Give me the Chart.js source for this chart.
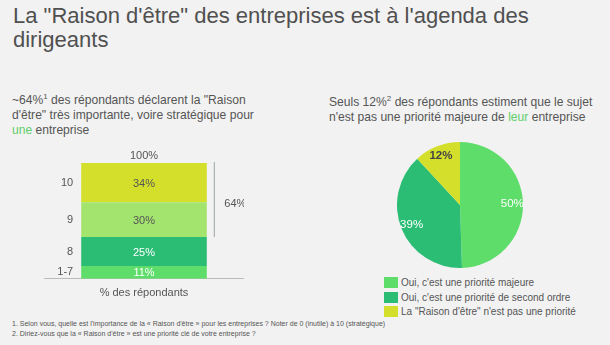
<!doctype html>
<html>
<head>
    <meta charset="utf-8">
    <title>Raison d'être</title>
    <script src="https://cdn.jsdelivr.net/npm/chart.js"></script>
    <style>
        body {
            margin: 0;
            background: #f2f2f2;
            font-family: "Liberation Sans", Arial, sans-serif;
            color: #555;
        }

        #page {
            position: relative;
            width: 610px;
            height: 345px;
            overflow: hidden;
        }

        .abs { position: absolute; }

        #title {
            left: 13px;
            top: 4px;
            font-size: 22px;
            line-height: 24px;
            color: #505050;
        }

        .lead {
            font-size: 12.1px;
            line-height: 15px;
        }

        .lead sup {
            font-size: 8px;
            vertical-align: 5px;
            line-height: 0;
        }

        .hl { color: #5fcf6b; }

        #leadLeft { left: 12px; top: 93px; }
        #leadRight { left: 329px; top: 95px; line-height: 14.5px; }

        #barWrap { left: 44px; top: 140px; width: 200px; height: 170px; }
        #pieWrap { left: 397px; top: 142px; width: 126px; height: 126px; }

        #legend {
            left: 384px;
            top: 275px;
            font-size: 10px;
        }

        #legend div {
            height: 14.7px;
            display: flex;
            align-items: center;
        }

        #legend span.box {
            display: inline-block;
            width: 14px;
            height: 11px;
            margin-right: 3px;
        }

        #notes {
            left: 12px;
            top: 319px;
            font-size: 7px;
            line-height: 10px;
        }
    </style>
</head>
<body>
<div id="page">
    <div id="title" class="abs">La "Raison d'être" des entreprises est à l'agenda des<br>dirigeants</div>

    <div id="leadLeft" class="abs lead">~64%<sup>1</sup> des répondants déclarent la "Raison<br>d'être" très importante, voire stratégique pour<br><span class="hl">une</span> entreprise</div>
    <div id="leadRight" class="abs lead">Seuls 12%<sup>2</sup> des répondants estiment que le sujet<br>n'est pas une priorité majeure de <span class="hl">leur</span> entreprise</div>

    <div id="barWrap" class="abs"><canvas id="barChart"></canvas></div>
    <div id="pieWrap" class="abs"><canvas id="pieChart"></canvas></div>
    <div id="legend" class="abs"></div>

    <div id="notes" class="abs">1. Selon vous, quelle est l'importance de la « Raison d'être » pour les entreprises ? Noter de 0 (inutile) à 10 (stratégique)<br>2. Diriez-vous que la « Raison d'être » est une priorité clé de votre entreprise ?</div>
</div>

<script>
    // score distribution (stacked, bottom to top)
    const scoreLabels = ['1-7', '8', '9', '10'];
    const scoreValues = [11, 25, 30, 34];
    const scoreColors = ['#5fdd6a', '#2bbd74', '#a3e46f', '#d4df2c'];
    const scoreTextColors = ['#fff', '#fff', '#555', '#555'];
    const barCategory = ['% des répondants'];
    const totalLabel = '100%';
    const topShareLabel = '64%';

    // priority split
    const priorityLabels = [
        'Oui, c\'est une priorité majeure',
        'Oui, c\'est une priorité de second ordre',
        'La "Raison d\'être" n\'est pas une priorité'
    ];
    const priorityValues = [50, 39, 12];
    const priorityColors = ['#5fdd6a', '#2bbd74', '#d4df2c'];
    const priorityTextColors = ['#fff', '#fff', '#444'];

    const FONT = '"Liberation Sans", Arial, sans-serif';

    const barLabels = {
        id: 'barLabels',
        afterDatasetsDraw(chart) {
            const ctx = chart.ctx;
            ctx.save();
            ctx.font = '11px ' + FONT;
            ctx.textBaseline = 'middle';
            let top = null, left = null, right = null, topShareBottom = null;
            chart.data.datasets.forEach((ds, i) => {
                const bar = chart.getDatasetMeta(i).data[0];
                const mid = (bar.y + bar.base) / 2;
                left = bar.x - bar.width / 2;
                right = bar.x + bar.width / 2;
                ctx.textAlign = 'center';
                ctx.fillStyle = scoreTextColors[i];
                ctx.fillText(ds.data[0] + '%', bar.x, mid + 1);
                ctx.textAlign = 'right';
                ctx.fillStyle = '#555';
                ctx.fillText(ds.label, left - 8, mid);
                if (i === chart.data.datasets.length - 1) top = bar.y;
                if (i === 2) topShareBottom = bar.base;
            });
            // total above the stack
            ctx.textAlign = 'center';
            ctx.fillText(totalLabel, (left + right) / 2, top - 7);
            // bracket for the two top scores
            const bx = right + 7.5;
            ctx.strokeStyle = '#9aa59f';
            ctx.lineWidth = 1;
            ctx.beginPath();
            ctx.moveTo(bx, top - 1);
            ctx.lineTo(bx, topShareBottom);
            ctx.stroke();
            ctx.fillText(topShareLabel, bx + 21, (top + topShareBottom) / 2 + 4);
            ctx.restore();
        }
    };

    new Chart(document.getElementById('barChart'), {
        type: 'bar',
        data: {
            labels: barCategory,
            datasets: scoreLabels.map((label, i) => ({
                label,
                data: [scoreValues[i]],
                backgroundColor: scoreColors[i],
                borderWidth: 0,
                barPercentage: 0.628,
                categoryPercentage: 1
            }))
        },
        options: {
            responsive: true,
            maintainAspectRatio: false,
            animation: false,
            layout: { padding: { top: 23, bottom: 2 } },
            plugins: {
                legend: { display: false },
                tooltip: { enabled: false }
            },
            scales: {
                x: {
                    stacked: true,
                    grid: { display: false, drawTicks: false },
                    border: { color: '#bbb' },
                    ticks: { color: '#555', font: { family: FONT, size: 11 }, padding: 8 }
                },
                y: { stacked: true, min: 0, max: 100, display: false }
            }
        },
        plugins: [barLabels]
    });

    const pieLabels = {
        id: 'pieLabels',
        afterDatasetsDraw(chart) {
            const ctx = chart.ctx;
            ctx.save();
            ctx.textAlign = 'center';
            ctx.textBaseline = 'middle';
            chart.getDatasetMeta(0).data.forEach((arc, i) => {
                const a = (arc.startAngle + arc.endAngle) / 2;
                const r = arc.outerRadius * 0.83;
                ctx.font = (i === 2 ? 'bold ' : '') + '11.5px ' + FONT;
                ctx.fillStyle = priorityTextColors[i];
                ctx.fillText(priorityValues[i] + '%', arc.x + Math.cos(a) * r, arc.y + Math.sin(a) * r);
            });
            ctx.restore();
        }
    };

    new Chart(document.getElementById('pieChart'), {
        type: 'pie',
        data: {
            labels: priorityLabels,
            datasets: [{
                data: priorityValues,
                backgroundColor: priorityColors,
                borderWidth: 0
            }]
        },
        options: {
            responsive: true,
            maintainAspectRatio: false,
            animation: false,
            plugins: {
                legend: { display: false },
                tooltip: { enabled: false }
            }
        },
        plugins: [pieLabels]
    });

    // legend under the pie
    const legend = document.getElementById('legend');
    priorityLabels.forEach((label, i) => {
        const row = document.createElement('div');
        const box = document.createElement('span');
        box.className = 'box';
        box.style.background = priorityColors[i];
        row.appendChild(box);
        row.appendChild(document.createTextNode(label));
        legend.appendChild(row);
    });
</script>
</body>
</html>
